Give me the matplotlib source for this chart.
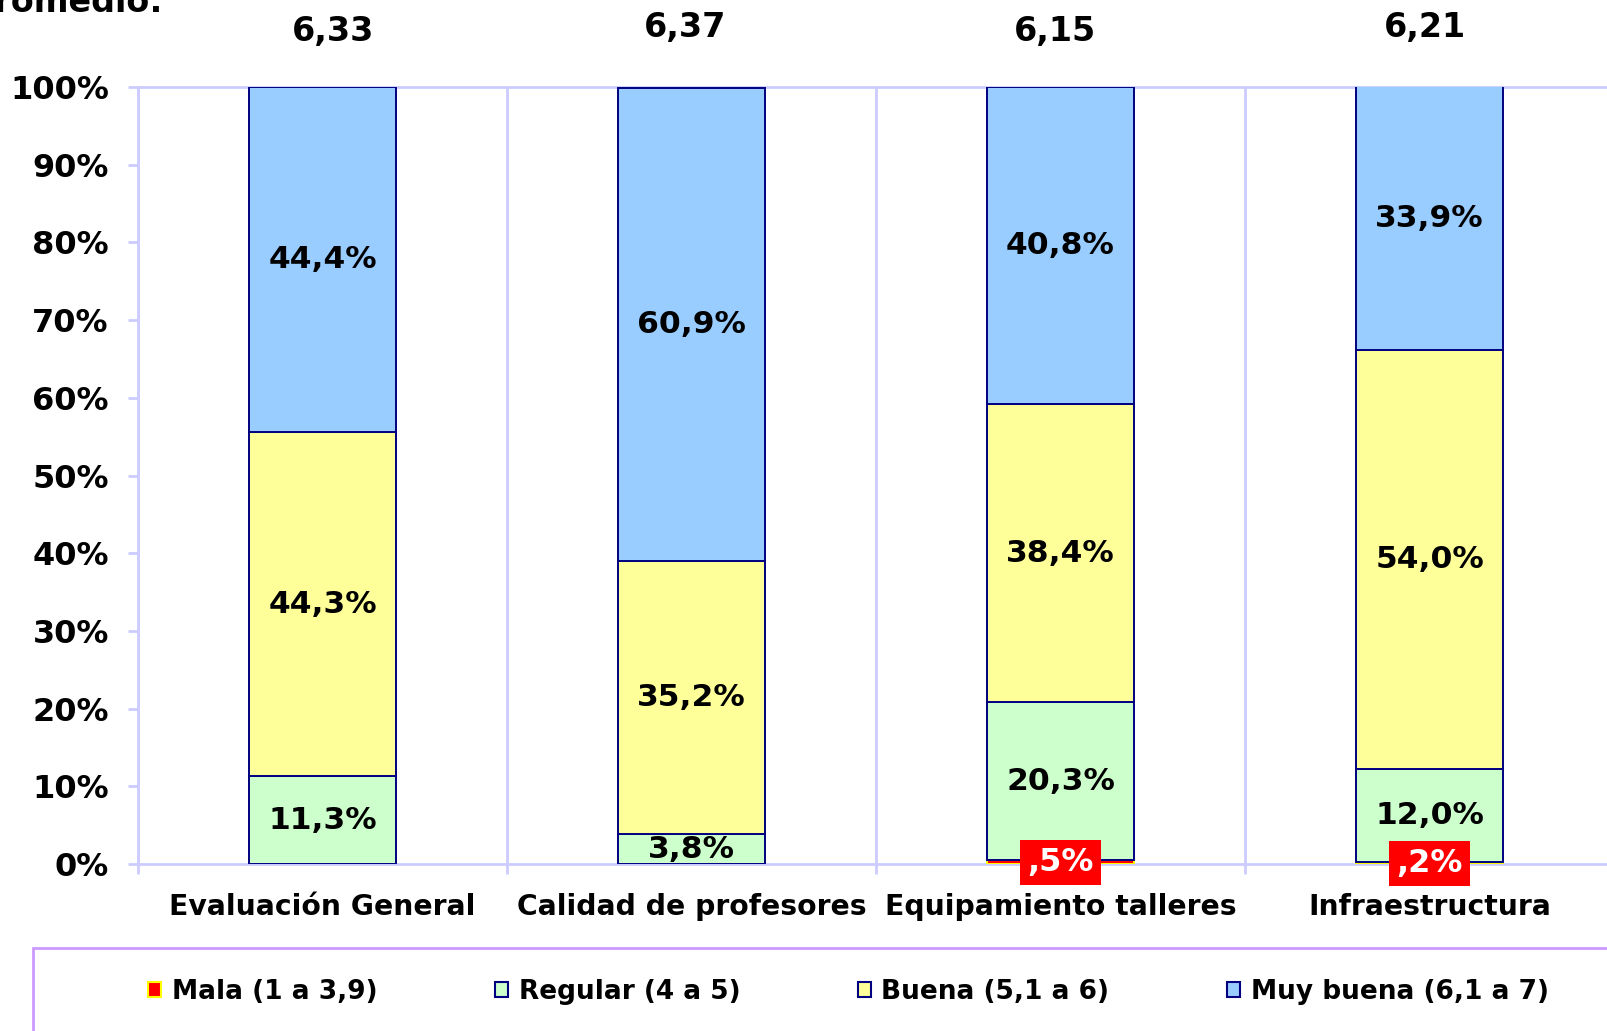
import matplotlib
matplotlib.use("Agg")
import matplotlib.pyplot as plt
from matplotlib.patches import Patch, Rectangle
from matplotlib.transforms import blended_transform_factory, offset_copy
import numpy as np

categories = ["Evaluación General", "Calidad de profesores", "Equipamiento talleres", "Infraestructura"]
promedios = ["6,33", "6,37", "6,15", "6,21"]
series_names = ["Mala (1 a 3,9)", "Regular (4 a 5)", "Buena (5,1 a 6)", "Muy buena (6,1 a 7)"]
mala = [0.0, 0.0, 0.5, 0.2]
regular = [11.3, 3.8, 20.3, 12.0]
buena = [44.3, 35.2, 38.4, 54.0]
muy_buena = [44.4, 60.9, 40.8, 33.9]
yticks = [0, 10, 20, 30, 40, 50, 60, 70, 80, 90, 100]

colors = ["#FF0000", "#CCFFCC", "#FFFF99", "#99CCFF"]
edges = ["#FFFF00", "#000080", "#000080", "#000080"]
grid_c = "#CCCCFF"

# per-label pixel nudges of the average labels (layout only)
avg_dx = [11, -6, -5, -5]
avg_y = [31, 27, 31, 27]

plt.rcParams['font.family'] = ['DejaVu Sans']
plt.rcParams['font.weight'] = 'bold'

W, H = 1607, 1031
fig = plt.figure(figsize=(W / 100, H / 100), dpi=100)
ax = fig.add_axes([138 / W, 1 - 864 / H, 1476 / W, (864 - 87) / H])

x = np.arange(len(categories))
data = [mala, regular, buena, muy_buena]
bottom = np.zeros(len(categories))
containers = []
for vals, c, e, name in zip(data, colors, edges, series_names):
    v = np.array(vals)
    bc = ax.bar(x, v, width=0.4, bottom=bottom, color=c, edgecolor=e, linewidth=1.4, zorder=3, label=name)
    containers.append((bc, v))
    bottom = bottom + v

def fmt(v):
    s = f"{v:.1f}".replace('.', ',')
    if s.startswith("0,"):
        s = s[1:]
    return s + "%"

for i, (bc, v) in enumerate(containers):
    labels = [fmt(val) if val > 0 else "" for val in v]
    if i == 0:
        txts = ax.bar_label(bc, labels=labels, label_type='center', fontsize=23, fontweight='bold',
                            color='white', zorder=5)
        for t in txts:
            if t.get_text():
                t.set_bbox(dict(facecolor='#FF0000', edgecolor='none', pad=5))
    else:
        ax.bar_label(bc, labels=labels, label_type='center', fontsize=22.6, fontweight='bold',
                     color='black', zorder=5)

ax.set_xlim(-0.5, len(categories) - 0.5)
ax.set_ylim(0, 100)
ax.set_yticks(yticks)
ax.set_yticklabels([f"{t}%" for t in yticks], fontsize=23, fontweight='bold')
ax.set_xticks(x)
ax.set_xticklabels(categories, fontsize=20.3, fontweight='bold')
ax.set_xticks(np.arange(len(categories) + 1) - 0.5, minor=True)
ax.tick_params(axis='x', which='major', length=0, pad=21)
ax.tick_params(axis='x', which='minor', length=7, width=2, color=grid_c)
ax.tick_params(axis='y', which='major', length=7, width=2, color=grid_c, pad=14)
ax.grid(axis='x', which='minor', color=grid_c, linewidth=2, zorder=0)
for s in ['top', 'bottom', 'left', 'right']:
    ax.spines[s].set_color(grid_c)
    ax.spines[s].set_linewidth(2)

tr = blended_transform_factory(ax.transData, fig.transFigure)
for xi, p, dx, yy in zip(x, promedios, avg_dx, avg_y):
    t2 = offset_copy(tr, fig=fig, x=dx, y=0, units='dots')
    ax.text(xi, 1 - yy / H, p, transform=t2, ha='center', va='center', fontsize=24,
            fontweight='bold', color='black')

fig.text(163 / W, 1 - 12 / H, "Promedio:", ha='right', va='baseline', fontsize=24,
         fontweight='bold', color='black')

fig.patches.append(Rectangle((33 / W, -0.1), 1.2, 0.1 + (1 - 948 / H), transform=fig.transFigure,
                             facecolor='none', edgecolor='#CC99FF', linewidth=2, clip_on=False))

handles = [Patch(facecolor=c, edgecolor=e, linewidth=1.5) for c, e in zip(colors, edges)]
fig.legend(handles, series_names, loc='center left', bbox_to_anchor=(148 / W, 1 - 992 / H),
           ncol=4, frameon=False, prop={'weight': 'bold', 'size': 19},
           handlelength=0.5, handleheight=0.5, handletextpad=0.4, columnspacing=4.45,
           borderpad=0, borderaxespad=0)

fig.savefig("out.png", dpi=100)
